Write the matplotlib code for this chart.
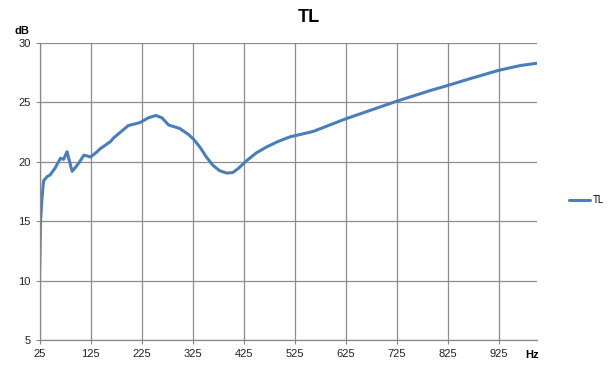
import matplotlib.pyplot as plt

# frequency (Hz) and transmission loss (dB)
freq = [25, 27, 30, 33, 40, 46, 56, 66, 72, 79, 84, 89, 95, 102, 112, 118,
        125, 138, 144, 164, 170, 199, 222, 238, 253, 265, 278, 300, 317, 327,
        340, 352, 365, 378, 392, 404, 415, 431, 450, 470, 492, 516, 561, 624,
        725, 791, 823, 869, 925, 967, 1000]
tl = [10.0, 15.0, 17.0, 18.4, 18.75, 18.9, 19.5, 20.3, 20.2, 20.85, 20.0,
      19.2, 19.5, 19.9, 20.55, 20.5, 20.4, 20.85, 21.1, 21.7, 22.0, 23.05,
      23.3, 23.7, 23.9, 23.7, 23.1, 22.8, 22.3, 21.9, 21.2, 20.4, 19.7, 19.25,
      19.05, 19.1, 19.45, 20.1, 20.75, 21.25, 21.7, 22.1, 22.55, 23.6, 25.1,
      26.0, 26.4, 27.0, 27.7, 28.1, 28.3]

xticks = [25, 125, 225, 325, 425, 525, 625, 725, 825, 925]
yticks = [5, 10, 15, 20, 25, 30]

plt.rcParams['font.family'] = ['Liberation Sans', 'DejaVu Sans']

fig = plt.figure(figsize=(6.12, 3.70), dpi=100)
ax = fig.add_axes([39.5 / 612, 30 / 370, (537 - 39.5) / 612, 297 / 370])

ax.plot(freq, tl, color='#4A7EBB', lw=2.2, label='TL',
        solid_capstyle='round', solid_joinstyle='round')

ax.set_xlim(25, 1000)
ax.set_ylim(5, 30)
ax.set_xticks(xticks)
ax.set_yticks(yticks)
ax.tick_params(labelsize=8, color='#888888', length=3, width=0.8,
               labelcolor='#222222')
ax.grid(True, color='#8c8c8c', lw=0.9)
ax.set_axisbelow(True)
for s in ['top', 'right']:
    ax.spines[s].set_visible(False)
for s in ['left', 'bottom']:
    ax.spines[s].set_color('#888888')
    ax.spines[s].set_linewidth(0.9)

fig.text(309 / 612, 1 - 18 / 370, 'TL', ha='center', va='center',
         fontsize=13, fontweight='bold')
fig.text(22 / 612, 1 - 31 / 370, 'dB', ha='center', va='center',
         fontsize=8, fontweight='bold')
fig.text(532 / 612, 1 - 355 / 370, 'Hz', ha='center', va='center',
         fontsize=8, fontweight='bold')

fig.legend(loc='center left', bbox_to_anchor=(560 / 612, 1 - 200 / 370),
           frameon=False, fontsize=7, handlelength=2.2, handletextpad=0.3)

fig.savefig('out.png', dpi=100)
